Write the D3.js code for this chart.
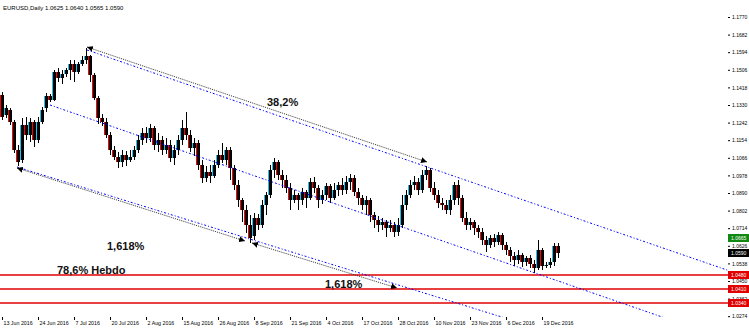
<!DOCTYPE html>
<html>
<head>
<meta charset="utf-8">
<script src="https://cdn.jsdelivr.net/npm/d3@7"></script>
<style>
  body { margin: 0; background: #fff; }
  svg { display: block; font-family: "Liberation Sans", Arial, sans-serif; }
  .axis text { fill: #000; }
  .axis line { stroke: #000; }
</style>
</head>
<body>
<svg width="749" height="330"></svg>
<script>
// Daily candles
const open = [
  1.1380, 1.1280, 1.1305, 1.1245, 1.1105, 1.1055, 1.1230, 1.1180, 1.1245, 1.1155,
  1.1245, 1.1315, 1.1375, 1.1355, 1.1495, 1.1465, 1.1485, 1.1505, 1.1535, 1.1495,
  1.1535, 1.1555, 1.1575, 1.1480, 1.1365, 1.1265, 1.1245, 1.1180, 1.1105, 1.1070,
  1.1045, 1.1080, 1.1055, 1.1070, 1.1105, 1.1155, 1.1190, 1.1165, 1.1215, 1.1130,
  1.1155, 1.1105, 1.1130, 1.1065, 1.1105, 1.1155, 1.1215, 1.1180, 1.1115, 1.1140,
  1.1030, 1.0965, 1.0995, 1.0975, 1.1030, 1.1080, 1.1055, 1.1105, 1.1015, 1.0930,
  1.0855, 1.0805, 1.0730, 1.0675, 1.0765, 1.0730, 1.0830, 1.0880, 1.1005, 1.1045,
  1.0980, 1.0955, 1.0915, 1.0855, 1.0880, 1.0855, 1.0895, 1.0865, 1.0945, 1.0915,
  1.0855, 1.0880, 1.0925, 1.0865, 1.0905, 1.0930, 1.0905, 1.0945, 1.0965, 1.0895,
  1.0865, 1.0830, 1.0855, 1.0780, 1.0755, 1.0730, 1.0745, 1.0715, 1.0730, 1.0695,
  1.0730, 1.0830, 1.0880, 1.0930, 1.0945, 1.0905, 1.0980, 1.1005, 1.0915, 1.0880,
  1.0840, 1.0830, 1.0805, 1.0855, 1.0930, 1.0865, 1.0765, 1.0730, 1.0745, 1.0715,
  1.0695, 1.0655, 1.0630, 1.0665, 1.0645, 1.0680, 1.0630, 1.0605, 1.0575, 1.0555,
  1.0580, 1.0545, 1.0565, 1.0535, 1.0515, 1.0605, 1.0525, 1.0530, 1.0545, 1.0625
];
const high = [
  1.1395, 1.1330, 1.1315, 1.1255, 1.1130, 1.1265, 1.1270, 1.1265, 1.1255, 1.1270,
  1.1320, 1.1390, 1.1385, 1.1505, 1.1515, 1.1505, 1.1515, 1.1555, 1.1555, 1.1545,
  1.1575, 1.1615, 1.1580, 1.1490, 1.1375, 1.1285, 1.1265, 1.1195, 1.1125, 1.1095,
  1.1105, 1.1100, 1.1105, 1.1125, 1.1180, 1.1215, 1.1220, 1.1235, 1.1225, 1.1190,
  1.1175, 1.1165, 1.1155, 1.1130, 1.1180, 1.1255, 1.1295, 1.1205, 1.1165, 1.1155,
  1.1055, 1.1025, 1.1030, 1.1055, 1.1105, 1.1140, 1.1120, 1.1120, 1.1030, 1.0955,
  1.0865, 1.0830, 1.0780, 1.0790, 1.0785, 1.0855, 1.0895, 1.1030, 1.1065, 1.1055,
  1.1005, 1.0980, 1.0940, 1.0905, 1.0890, 1.0915, 1.0905, 1.0965, 1.0970, 1.0930,
  1.0905, 1.0940, 1.0935, 1.0940, 1.0945, 1.0965, 1.0975, 1.0985, 1.0980, 1.0915,
  1.0880, 1.0875, 1.0865, 1.0795, 1.0775, 1.0765, 1.0755, 1.0755, 1.0745, 1.0765,
  1.0880, 1.0905, 1.0955, 1.0975, 1.0965, 1.1005, 1.1025, 1.1015, 1.0945, 1.0905,
  1.0865, 1.0855, 1.0880, 1.0945, 1.0955, 1.0880, 1.0795, 1.0765, 1.0755, 1.0730,
  1.0715, 1.0675, 1.0680, 1.0685, 1.0695, 1.0690, 1.0645, 1.0620, 1.0595, 1.0605,
  1.0590, 1.0575, 1.0580, 1.0555, 1.0655, 1.0615, 1.0545, 1.0565, 1.0640, 1.0640
];
const low = [
  1.1255, 1.1265, 1.1230, 1.1090, 1.1025, 1.1040, 1.1155, 1.1145, 1.1120, 1.1140,
  1.1235, 1.1295, 1.1345, 1.1350, 1.1445, 1.1435, 1.1470, 1.1455, 1.1445, 1.1485,
  1.1525, 1.1535, 1.1445, 1.1355, 1.1235, 1.1225, 1.1165, 1.1080, 1.1055, 1.1015,
  1.1020, 1.1025, 1.1045, 1.1055, 1.1090, 1.1130, 1.1140, 1.1145, 1.1105, 1.1095,
  1.1080, 1.1085, 1.1045, 1.1030, 1.1080, 1.1130, 1.1155, 1.1095, 1.1075, 1.1005,
  1.0940, 1.0945, 1.0940, 1.0965, 1.1015, 1.1040, 1.1030, 1.0955, 1.0905, 1.0820,
  1.0745, 1.0690, 1.0640, 1.0655, 1.0705, 1.0715, 1.0780, 1.0865, 1.0965, 1.0955,
  1.0915, 1.0890, 1.0805, 1.0840, 1.0805, 1.0830, 1.0815, 1.0855, 1.0890, 1.0815,
  1.0835, 1.0855, 1.0840, 1.0855, 1.0875, 1.0880, 1.0885, 1.0905, 1.0875, 1.0830,
  1.0805, 1.0780, 1.0745, 1.0715, 1.0695, 1.0705, 1.0670, 1.0695, 1.0670, 1.0675,
  1.0715, 1.0805, 1.0865, 1.0905, 1.0880, 1.0890, 1.0955, 1.0895, 1.0855, 1.0815,
  1.0805, 1.0785, 1.0780, 1.0830, 1.0830, 1.0745, 1.0705, 1.0705, 1.0680, 1.0665,
  1.0630, 1.0595, 1.0615, 1.0620, 1.0630, 1.0605, 1.0580, 1.0545, 1.0525, 1.0535,
  1.0520, 1.0525, 1.0515, 1.0490, 1.0505, 1.0505, 1.0515, 1.0515, 1.0525, 1.0565
];
const close = [
  1.1270, 1.1315, 1.1245, 1.1105, 1.1045, 1.1230, 1.1180, 1.1245, 1.1155, 1.1245,
  1.1305, 1.1375, 1.1355, 1.1495, 1.1465, 1.1485, 1.1505, 1.1535, 1.1495, 1.1535,
  1.1555, 1.1575, 1.1480, 1.1365, 1.1265, 1.1245, 1.1180, 1.1105, 1.1070, 1.1045,
  1.1080, 1.1055, 1.1070, 1.1105, 1.1155, 1.1190, 1.1165, 1.1215, 1.1130, 1.1155,
  1.1105, 1.1130, 1.1065, 1.1105, 1.1155, 1.1215, 1.1180, 1.1115, 1.1140, 1.1030,
  1.0965, 1.0995, 1.0975, 1.1030, 1.1080, 1.1055, 1.1105, 1.1015, 1.0930, 1.0855,
  1.0805, 1.0730, 1.0665, 1.0765, 1.0730, 1.0830, 1.0880, 1.1005, 1.1045, 1.0980,
  1.0955, 1.0915, 1.0855, 1.0880, 1.0855, 1.0895, 1.0865, 1.0945, 1.0915, 1.0855,
  1.0880, 1.0925, 1.0865, 1.0905, 1.0930, 1.0905, 1.0945, 1.0965, 1.0895, 1.0865,
  1.0830, 1.0855, 1.0780, 1.0755, 1.0730, 1.0745, 1.0715, 1.0730, 1.0695, 1.0730,
  1.0830, 1.0880, 1.0930, 1.0945, 1.0905, 1.0980, 1.1005, 1.0915, 1.0880, 1.0840,
  1.0830, 1.0805, 1.0855, 1.0930, 1.0865, 1.0765, 1.0730, 1.0745, 1.0715, 1.0695,
  1.0655, 1.0630, 1.0665, 1.0645, 1.0680, 1.0630, 1.0605, 1.0575, 1.0555, 1.0580,
  1.0545, 1.0565, 1.0535, 1.0515, 1.0605, 1.0525, 1.0530, 1.0545, 1.0625, 1.0590
];

// Axis labels
const priceTicks = [1.1770, 1.1682, 1.1594, 1.1506, 1.1418, 1.1330, 1.1242, 1.1154, 1.1066,
  1.0978, 1.0890, 1.0802, 1.0714, 1.0626, 1.0538, 1.0450, 1.0362, 1.0274];
const dateBars = [0, 9, 18, 27, 36, 45, 54, 63, 72, 81, 90, 99, 108, 117, 126, 135];
const dateLabels = ["13 Jun 2016", "24 Jun 2016", "7 Jul 2016", "20 Jul 2016", "2 Aug 2016",
  "15 Aug 2016", "26 Aug 2016", "8 Sep 2016", "21 Sep 2016", "4 Oct 2016", "17 Oct 2016",
  "28 Oct 2016", "10 Nov 2016", "23 Nov 2016", "6 Dec 2016", "19 Dec 2016"];
const title = "EURUSD,Daily  1.0625 1.0640 1.0565 1.0590";

// Horizontal levels and price tags
const levels = [1.0480, 1.0410, 1.0340];
const askPrice = 1.0665;

// Channel lines: [bar1, price1, bar2, price2]
const channels = [
  [21.25, 1.1605, 181.25, 1.0505],
  [12, 1.1330, 165.75, 1.0265],
  [3.75, 1.1020, 125.75, 1.0265]
];
// Measuring arrows
const arrows = [
  [21.25, 1.1620, 106.25, 1.1045],
  [3.75, 1.1015, 60.75, 1.0650],
  [62.5, 1.0640, 98.75, 1.0415]
];
const notes = ["38,2%", "1,618%", "1,618%", "78,6% Hebdo"];
const noteBars = [66.25, 26.25, 80.75, 13.75];
const notePrices = [1.1325, 1.0605, 1.0415, 1.0485];

const svg = d3.select("svg"),
  width = +svg.attr("width"),
  height = +svg.attr("height");

const plotRight = 728,
  plotBottom = 317;

const x = d3.scaleLinear().domain([0, close.length - 1]).range([2, 558]);
const y = d3.scaleLinear().domain([1.0274, 1.1770]).range([316.2, 17]);

svg.append("defs")
  .append("clipPath").attr("id", "plot")
  .append("rect").attr("x", 0).attr("y", 0).attr("width", plotRight).attr("height", plotBottom);

svg.select("defs").append("marker")
  .attr("id", "head")
  .attr("markerUnits", "userSpaceOnUse")
  .attr("markerWidth", 7).attr("markerHeight", 6)
  .attr("refX", 6).attr("refY", 3)
  .attr("orient", "auto-start-reverse")
  .append("path").attr("d", "M0,0L6,3L0,6Z").attr("fill", "#000");

// Title
svg.append("text")
  .attr("x", 3).attr("y", 10)
  .style("font-size", "6px")
  .text(title);

// Red levels
svg.append("g")
  .selectAll("line")
  .data(levels)
  .join("line")
  .attr("x1", 0).attr("x2", plotRight)
  .attr("y1", d => y(d)).attr("y2", d => y(d))
  .attr("stroke", "#e00000")
  .attr("stroke-width", 1.3);

// Candles: black body with a coloured strip on its left (cyan up, red down)
const bars = svg.append("g").attr("shape-rendering", "crispEdges");
const idx = d3.range(close.length);

bars.selectAll(".wick")
  .data(idx)
  .join("line")
  .attr("class", "wick")
  .attr("x1", i => Math.round(x(i)) + 0.5).attr("x2", i => Math.round(x(i)) + 0.5)
  .attr("y1", i => y(high[i])).attr("y2", i => y(low[i]))
  .attr("stroke", "#000");

bars.selectAll(".body")
  .data(idx)
  .join("rect")
  .attr("class", "body")
  .attr("x", i => Math.round(x(i)) - 1)
  .attr("width", 3)
  .attr("y", i => y(Math.max(open[i], close[i])))
  .attr("height", i => Math.max(1, Math.abs(y(open[i]) - y(close[i]))))
  .attr("fill", "#000");

bars.selectAll(".tint")
  .data(idx)
  .join("rect")
  .attr("class", "tint")
  .attr("x", i => Math.round(x(i)) - 2)
  .attr("width", 1)
  .attr("y", i => y(Math.max(open[i], close[i])))
  .attr("height", i => Math.max(1, Math.abs(y(open[i]) - y(close[i]))))
  .attr("fill", i => close[i] >= open[i] ? "#10c8f8" : "#ff0000");

// Channel lines, extended to the right edge
const lines = svg.append("g").attr("clip-path", "url(#plot)");
lines.selectAll(".channel")
  .data(channels)
  .join("line")
  .attr("class", "channel")
  .attr("x1", d => x(d[0])).attr("y1", d => y(d[1]))
  .attr("x2", plotRight)
  .attr("y2", d => {
    const t = (plotRight - x(d[0])) / (x(d[2]) - x(d[0]));
    return y(d[1]) + t * (y(d[3]) - y(d[1]));
  })
  .attr("stroke", "#0000ff")
  .attr("stroke-width", 1)
  .attr("stroke-dasharray", "2,2,1,2");

lines.selectAll(".arrow")
  .data(arrows)
  .join("line")
  .attr("class", "arrow")
  .attr("x1", d => x(d[0])).attr("y1", d => y(d[1]))
  .attr("x2", d => x(d[2])).attr("y2", d => y(d[3]))
  .attr("stroke", "#333")
  .attr("stroke-width", 1)
  .attr("stroke-dasharray", "1,1")
  .attr("marker-start", "url(#head)")
  .attr("marker-end", "url(#head)");

// Notes
svg.append("g")
  .selectAll("text")
  .data(notes)
  .join("text")
  .attr("x", (d, i) => x(noteBars[i]))
  .attr("y", (d, i) => y(notePrices[i]))
  .style("font-size", "11px")
  .style("font-weight", "bold")
  .attr("fill", "#111")
  .text(d => d);

// Price axis
const yAxis = svg.append("g")
  .attr("class", "axis")
  .attr("transform", `translate(${plotRight},0)`)
  .call(d3.axisRight(y).tickValues(priceTicks).tickFormat(d3.format(".4f")).tickSize(2).tickPadding(2));
yAxis.select(".domain").remove();
yAxis.selectAll("text").style("font-size", "5px");

// Date axis
const xAxis = svg.append("g")
  .attr("class", "axis")
  .attr("transform", `translate(0,${plotBottom})`)
  .call(d3.axisBottom(x).tickValues(dateBars).tickFormat((d, i) => dateLabels[i]).tickSize(3).tickPadding(1));
xAxis.select(".domain").remove();
xAxis.selectAll("text").attr("text-anchor", "start").attr("dx", 1).style("font-size", "5.3px");

// Price tags
const tags = [
  { v: askPrice, fill: "#118811" },
  { v: close[close.length - 1], fill: "#000" }
].concat(levels.map(v => ({ v: v, fill: "#e00000" })));

const tag = svg.append("g")
  .selectAll("g")
  .data(tags)
  .join("g")
  .attr("transform", d => `translate(${plotRight},${y(d.v)})`);
tag.append("rect")
  .attr("x", 0).attr("y", -4)
  .attr("width", width - plotRight).attr("height", 8)
  .attr("fill", d => d.fill);
tag.append("text")
  .attr("x", 3).attr("y", 2)
  .style("font-size", "5px")
  .attr("fill", "#fff")
  .text(d => d3.format(".4f")(d.v));
</script>
</body>
</html>
